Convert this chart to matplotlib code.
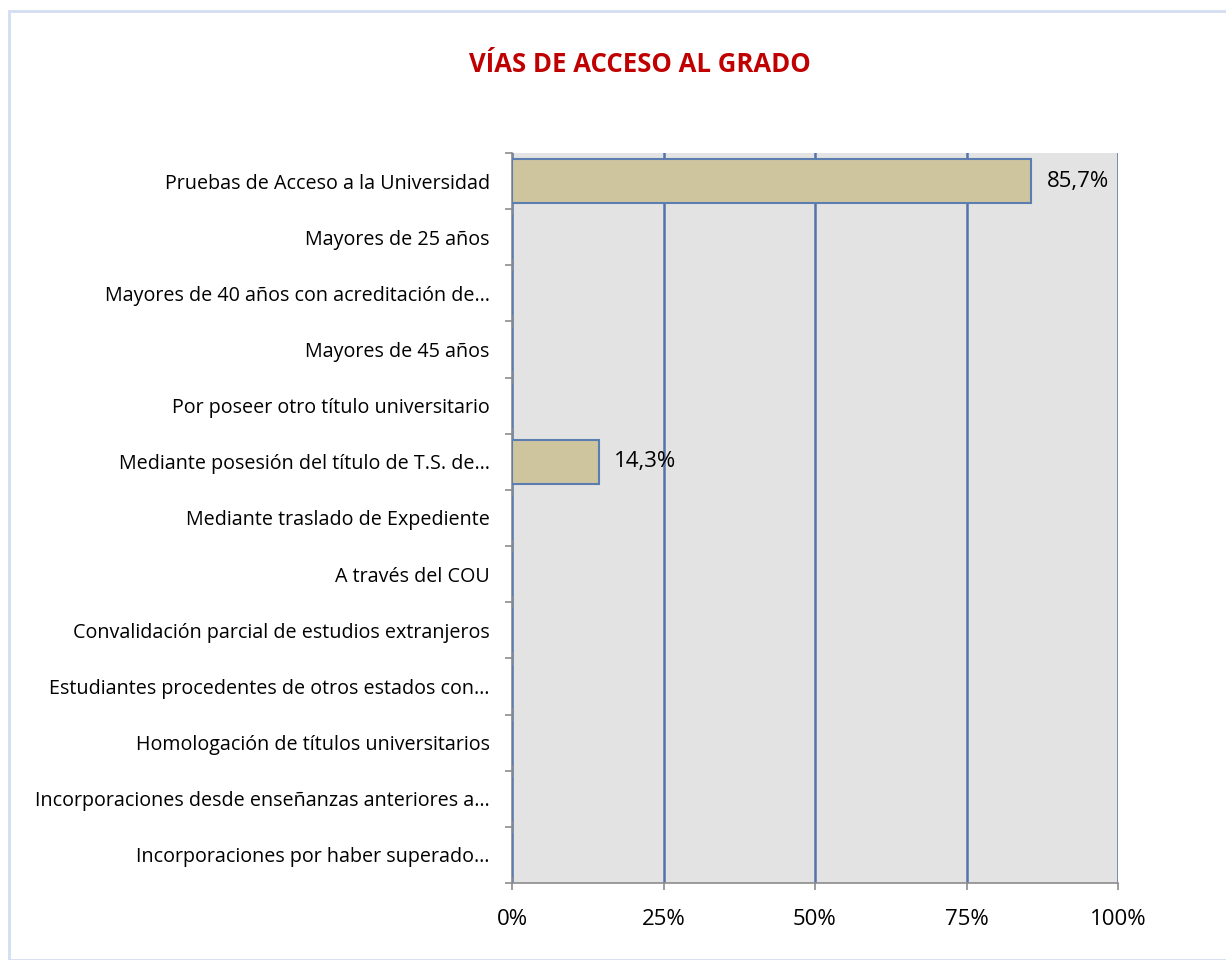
import matplotlib.pyplot as plt
from matplotlib.patches import Rectangle
from matplotlib.ticker import FixedLocator

categorias = [
    "Pruebas de Acceso a la Universidad",
    "Mayores de 25 años",
    "Mayores de 40 años con acreditación de…",
    "Mayores de 45 años",
    "Por poseer otro título universitario",
    "Mediante posesión del título de T.S. de…",
    "Mediante traslado de Expediente",
    "A través del COU",
    "Convalidación parcial de estudios extranjeros",
    "Estudiantes procedentes de otros estados con…",
    "Homologación de títulos universitarios",
    "Incorporaciones desde enseñanzas anteriores a…",
    "Incorporaciones por haber superado…",
]
porcentajes = [85.7, 0, 0, 0, 0, 14.3, 0, 0, 0, 0, 0, 0, 0]
ticks_x = [0, 25, 50, 75, 100]

plt.rcParams['font.family'] = ['Open Sans', 'DejaVu Sans']

fig = plt.figure(figsize=(12.26, 9.6), dpi=100)
fig.patches.append(Rectangle((9 / 1226, 0.0), 1.2, 1 - 11 / 960, transform=fig.transFigure,
                             fill=False, edgecolor='#D3DEF1', linewidth=2))

ax = fig.add_axes([512 / 1226, 1 - 883 / 960, (1118 - 512) / 1226, (883 - 153) / 960])
ax.set_facecolor('#E3E3E3')

y = list(range(len(categorias)))
ax.barh(y, porcentajes, height=0.78, color='#CEC59F', edgecolor='#5B7DB0', linewidth=1.5, zorder=3)

for yi, v in zip(y, porcentajes):
    if v > 0:
        ax.text(v + 2.5, yi, f"{v:.1f}%".replace('.', ','), va='center', ha='left',
                fontsize=16, color='black', zorder=4)

ax.set_xlim(0, 100)
ax.set_ylim(len(categorias) - 0.5, -0.5)
ax.set_xticks(ticks_x)
ax.set_xticklabels([f"{t}%" for t in ticks_x], fontsize=16)
ax.set_yticks(y)
ax.set_yticklabels(categorias, fontsize=14.2)
ax.tick_params(axis='y', which='major', length=0, pad=16)
ax.yaxis.set_minor_locator(FixedLocator([i - 0.5 for i in range(len(categorias) + 1)]))
ax.tick_params(axis='y', which='minor', length=5, color='#8C8C8C', width=1.2)
ax.tick_params(axis='x', length=5, color='#8C8C8C', width=1.2, pad=14)

ax.grid(axis='x', color='#5473A8', linewidth=1.8, zorder=1)
for lado in ['top', 'right']:
    ax.spines[lado].set_visible(False)
ax.spines['left'].set_color('#8C8C8C')
ax.spines['bottom'].set_color('#8C8C8C')
ax.spines['left'].set_linewidth(1.2)
ax.spines['bottom'].set_linewidth(1.2)
ax.set_axisbelow(True)

fig.text(640 / 1226, 1 - 65 / 960, "VÍAS DE ACCESO AL GRADO", ha='center', va='center',
         fontsize=18.5, fontweight='bold', color='#C00000')

fig.savefig('out.png', dpi=100)
